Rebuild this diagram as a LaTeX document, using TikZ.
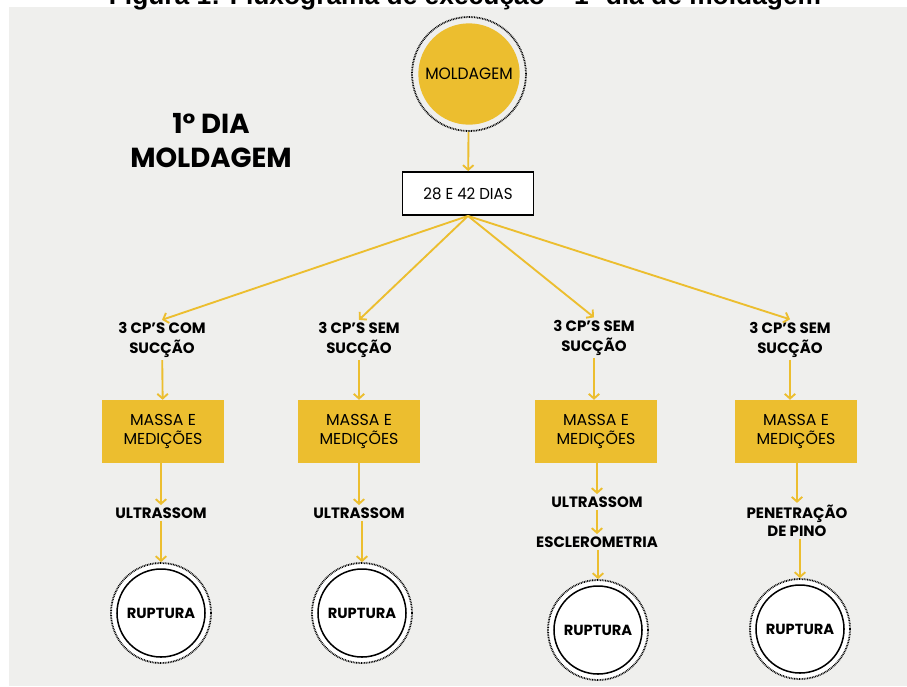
\documentclass[tikz,border=0pt]{standalone}
\usepackage{fontspec}
\setmainfont{Poppins}
\newfontfamily\titlefont{Liberation Sans}
\newfontfamily\condfont{Poppins}[FakeStretch=0.95]
\usetikzlibrary{arrows.meta}
\definecolor{amarelo}{RGB}{236,190,47}
\definecolor{fundo}{RGB}{239,239,237}
\begin{document}
\begin{tikzpicture}[x=0.03cm,y=-0.03cm,
		seta/.style={draw=amarelo, line width=1.6pt, -{Straight Barb[length=4pt,width=9pt,line width=1.6pt]}},
		rotulo/.style={font=\bfseries\fontsize{12.8}{17}\selectfont, align=center, inner sep=2pt},
		caixa/.style={fill=amarelo, minimum width=3.66cm, minimum height=1.89cm, align=center, inner sep=0pt, font=\fontsize{13.5}{17}\selectfont},
		anel/.style={circle, draw, line width=1.5pt, dash pattern=on 0.7pt off 0.7pt, inner sep=0pt},
		ruptura/.style={anel, fill=white, minimum size=3cm, font=\bfseries\fontsize{12.5}{14}\selectfont,
			path picture={\draw[solid, line width=1.3pt] (path picture bounding box.center) circle (1.32cm);}}]
		\useasboundingbox (0,0) rectangle (907,686);
		\fill [fundo] (9,7) rectangle (907,686);
		\node[anchor=base, font=\titlefont\bfseries\fontsize{22.5}{26}\selectfont] (T) at (465,4) {Figura 1: Fluxograma de execução – 1º dia de moldagem};
		\node[font=\bfseries\fontsize{23.5}{29}\selectfont, align=center] (Dia) at (211,141) {1° DIA\\MOLDAGEM};
		\node[anel, minimum size=3.42cm, font=\condfont\fontsize{14}{15}\selectfont,
			path picture={\fill[amarelo] (path picture bounding box.center) circle (1.52cm);}] (M) at (469,74) {MOLDAGEM};
		\node[draw, line width=1.6pt, fill=white, minimum width=3.93cm, minimum height=1.29cm, inner sep=0pt, font=\condfont\fontsize{13.5}{15}\selectfont] (D) at (468,193.5) {28 E 42 DIAS};
		\node[rotulo] (C1) at (162,340) {3 CP'S COM\\SUCÇÃO};
		\node[rotulo] (C2) at (359,340) {3 CP'S SEM\\SUCÇÃO};
		\node[rotulo] (C3) at (594,337.5) {3 CP'S SEM\\SUCÇÃO};
		\node[rotulo] (C4) at (790,339.5) {3 CP'S SEM\\SUCÇÃO};
		\node[caixa] (B1) at (163,431.5) {MASSA E\\MEDIÇÕES};
		\node[caixa] (B2) at (359,431.5) {MASSA E\\MEDIÇÕES};
		\node[caixa] (B3) at (596,431.5) {MASSA E\\MEDIÇÕES};
		\node[caixa] (B4) at (796,431.5) {MASSA E\\MEDIÇÕES};
		\node[rotulo] (U1) at (161,513) {ULTRASSOM};
		\node[rotulo] (U2) at (359,513) {ULTRASSOM};
		\node[rotulo] (U3) at (597,502) {ULTRASSOM};
		\node[rotulo] (E3) at (597,542) {ESCLEROMETRIA};
		\node[rotulo, font=\bfseries\fontsize{12.8}{15}\selectfont] (P4) at (797,521) {PENETRAÇÃO\\DE PINO};
		\node[ruptura] (R1) at (161,613) {RUPTURA};
		\node[ruptura] (R2) at (362,613) {RUPTURA};
		\node[ruptura] (R3) at (598,630) {RUPTURA};
		\node[ruptura] (R4) at (800,629) {RUPTURA};
		\draw[seta] (M) to (D);
		\draw[seta] (D.south) to (C1.north);
		\draw[seta] (D.south) to (C2.north);
		\draw[seta] (D.south) to (C3.north);
		\draw[seta] (D.south) to (C4.north);
		\draw[seta] (C1) to (B1);
		\draw[seta] (C2) to (B2);
		\draw[seta] (C3.south) to (C3.south |- B3.north);
		\draw[seta] (C4.south) to (C4.south |- B4.north);
		\draw[seta] (B1.south -| U1) to (U1);
		\draw[seta] (B2) to (U2);
		\draw[seta] (B3.south -| U3) to (U3);
		\draw[seta] (U3) to (E3);
		\draw[seta] (B4.south -| P4) to (P4);
		\draw[seta] (U1) to (R1.north -| U1);
		\draw[seta] (U2.south -| R2) to (R2);
		\draw[seta] (E3.south -| R3) to (R3);
		\draw[seta] (P4.south -| R4) to (R4);
	\end{tikzpicture}
\end{document}
